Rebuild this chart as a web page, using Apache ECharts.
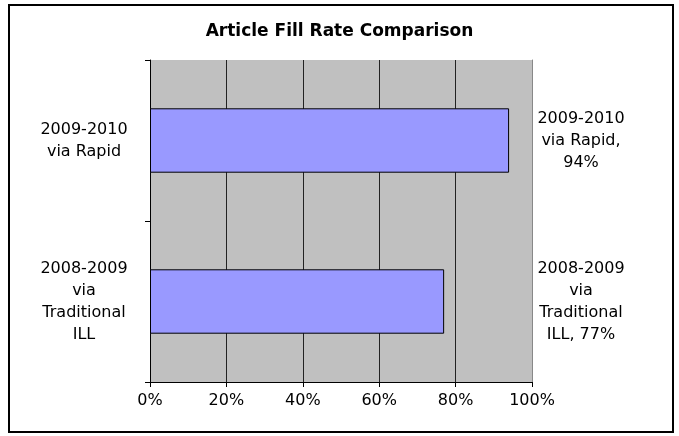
<!DOCTYPE html>
<html><head><meta charset="utf-8">
<script src="https://cdn.jsdelivr.net/npm/echarts@6/dist/echarts.min.js"></script>
<style>html,body{margin:0;padding:0;background:#fff}#c{width:679px;height:436px}</style>
</head><body><div id="c"></div>
<script>
const categories = ['2008-2009\nvia\nTraditional\nILL', '2009-2010\nvia Rapid'];
const values = [77, 94];
const xTicks = [0, 20, 40, 60, 80, 100];

const chart = echarts.init(document.getElementById('c'));
const font = "'DejaVu Sans', 'Liberation Sans', Arial, sans-serif";
chart.setOption({
  animation: false,
  title: {
    text: 'Article Fill Rate Comparison', left: 'center', top: 18,
    textStyle: {fontFamily: font, fontSize: 17, fontWeight: 'bold', color: '#000'}
  },
  graphic: [{type: 'rect', shape: {x: 9, y: 5, width: 664, height: 427},
    style: {fill: 'none', stroke: '#000', lineWidth: 2}, silent: true}],
  grid: {left: 150, right: 147, top: 60, bottom: 54, backgroundColor: '#c0c0c0', show: true, borderWidth: 0},
  xAxis: {
    type: 'value', min: 0, max: 100, interval: 20,
    axisLine: {show: true, lineStyle: {color: '#000', width: 1}},
    axisTick: {show: true, length: 5, lineStyle: {color: '#000'}},
    axisLabel: {formatter: v => xTicks.includes(v) ? v + '%' : '', fontFamily: font, fontSize: 16, color: '#000', margin: 11},
    splitLine: {show: true, lineStyle: {color: '#222', width: 1}}
  },
  yAxis: [{
    type: 'category', data: categories, position: 'left',
    axisLine: {show: true, lineStyle: {color: '#000'}},
    axisTick: {show: true, length: 5, lineStyle: {color: '#000'}},
    axisLabel: {fontFamily: font, fontSize: 16, color: '#000', align: 'center', margin: 66, lineHeight: 22}
  }, {
    type: 'category', data: categories, position: 'right',
    axisLine: {show: true, lineStyle: {color: '#888'}},
    axisTick: {show: false},
    axisLabel: {
      fontFamily: font, fontSize: 16, color: '#000', align: 'center', margin: 49, lineHeight: 22,
      formatter: (v, i) => i === 0 ? '2008-2009\nvia\nTraditional\nILL, ' + values[0] + '%' : '2009-2010\nvia Rapid,\n' + values[1] + '%'
    }
  }],
  series: [{
    type: 'bar', data: values, barWidth: '40%', yAxisIndex: 0,
    itemStyle: {color: '#9999ff', borderColor: '#000', borderWidth: 1}
  }]
});
</script></body></html>
